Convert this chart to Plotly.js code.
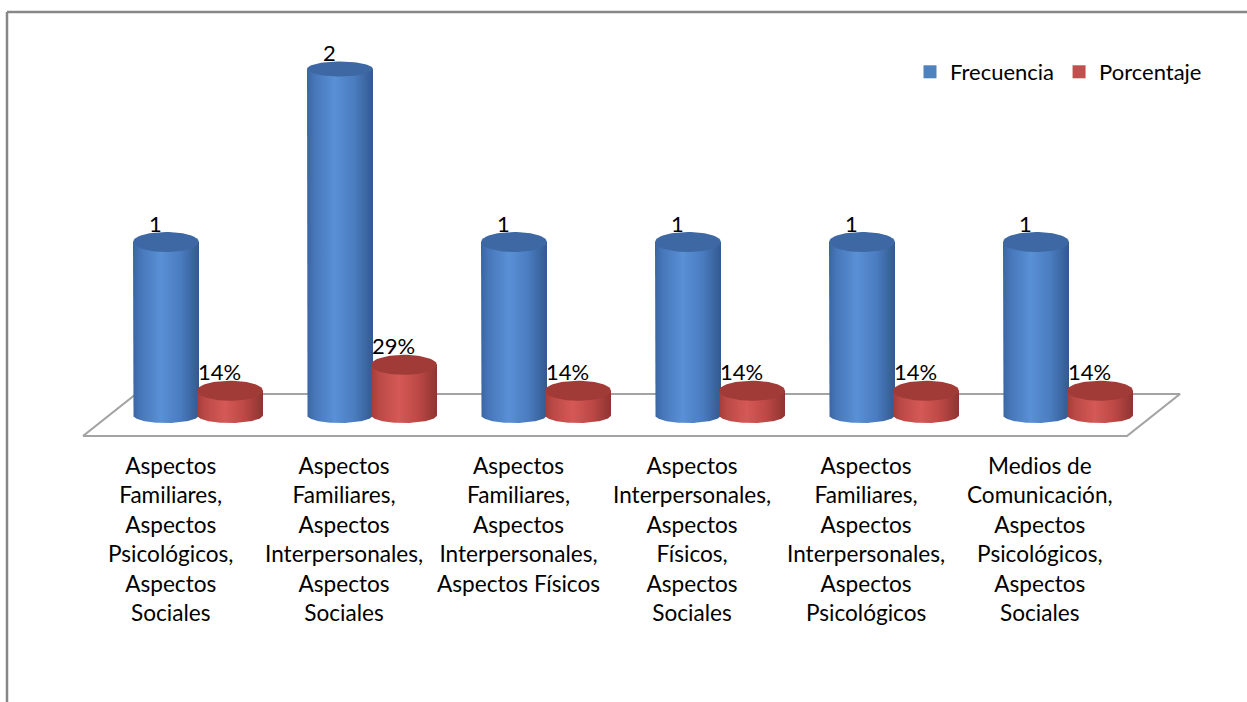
<!DOCTYPE html>
<html>
<head>
<meta charset="utf-8">
<script src="https://cdn.plot.ly/plotly-3.0.1.min.js"></script>
<style>
  html, body { margin: 0; padding: 0; background: #ffffff; }
  #chart { width: 1247px; height: 702px; }
</style>
</head>
<body>
<div id="chart"></div>
<script>
// ---- data ----
const categories = [
  'Aspectos\nFamiliares,\nAspectos\nPsicológicos,\nAspectos\nSociales',
  'Aspectos\nFamiliares,\nAspectos\nInterpersonales,\nAspectos\nSociales',
  'Aspectos\nFamiliares,\nAspectos\nInterpersonales,\nAspectos Físicos',
  'Aspectos\nInterpersonales,\nAspectos\nFísicos,\nAspectos\nSociales',
  'Aspectos\nFamiliares,\nAspectos\nInterpersonales,\nAspectos\nPsicológicos',
  'Medios de\nComunicación,\nAspectos\nPsicológicos,\nAspectos\nSociales'
];
const seriesNames = ['Frecuencia', 'Porcentaje'];
const frecuencia = [1, 2, 1, 1, 1, 1];
const porcentaje = [0.14, 0.29, 0.14, 0.14, 0.14, 0.14];
const frecuenciaLabels = frecuencia.map(v => String(v));
const porcentajeLabels = porcentaje.map(v => Math.round(v * 100) + '%');

// ---- drawing setup ----
const W = 1247, H = 702;
const PX_PER_CAT = 174;          // horizontal pixels per category slot
const PX_PER_UNIT = 173;         // vertical pixels per value unit
const X0_PX = 170;               // pixel of first category (front edge)
const BASE_PX = 415;             // pixel row of value 0 (cylinder bases)
const dxPx = px => px / PX_PER_CAT;
const dyPx = px => px / PX_PER_UNIT;
const xRange = [-X0_PX / PX_PER_CAT, (W - X0_PX) / PX_PER_CAT];
const yRange = [-(H - BASE_PX) / PX_PER_UNIT, BASE_PX / PX_PER_UNIT];
const toPyRow = v => BASE_PX - v * PX_PER_UNIT;

const FONT = 'Lato, "Open Sans", sans-serif';
const DEPTH_X = 53;                   // floor depth skew in px
const FLOOR_FRONT = 436, FLOOR_BACK = 394; // floor edge rows, px
const RADIUS = 33;                    // cylinder half width, px
const BASE_RY = 8;                    // base ellipse half height, px
const SERIES_SHIFT = [-4, 60];        // cylinder centre offsets from category, px
const rowToY = py => (BASE_PX - py) / PX_PER_UNIT;

const styles = [
  {
    legend: '#4F81BD',
    top: '#3D68A3',
    body: [[0, '#3A65A2'], [0.12, '#4777BA'], [0.42, '#5990D6'], [0.72, '#4A7CC0'], [1, '#33598F']]
  },
  {
    legend: '#C0504D',
    top: '#A03B38',
    body: [[0, '#A23D3A'], [0.12, '#BB4946'], [0.42, '#D55956'], [0.72, '#BC4845'], [1, '#8E3432']]
  }
];

function ryFor(py) {
  // top ellipse half-height shrinks for higher tops (perspective)
  const t = Math.max(0, Math.min(1, (py - 66) / 178));
  return 7.5 + 3.5 * t;
}

const traces = [];

// floor outline
const fx = [-0.5, categories.length - 0.5];
traces.push({
  type: 'scatter', mode: 'lines', hoverinfo: 'skip', showlegend: false,
  x: [fx[0], fx[1], fx[1] + dxPx(DEPTH_X), fx[0] + dxPx(DEPTH_X), fx[0]],
  y: [rowToY(FLOOR_FRONT), rowToY(FLOOR_FRONT), rowToY(FLOOR_BACK), rowToY(FLOOR_BACK), rowToY(FLOOR_FRONT)],
  line: { color: '#A3A3A3', width: 2.2 }
});

const series = [frecuencia, porcentaje];
const seriesLabels = [frecuenciaLabels, porcentajeLabels];
const annotations = [];
const N = 72;

categories.forEach((cat, i) => {
  series.forEach((vals, s) => {
    const v = vals[i];
    const cx = i + dxPx(SERIES_SHIFT[s]);
    const r = dxPx(RADIUS);
    const yTop = v;
    const ryTop = Math.min(ryFor(toPyRow(v)), 10);

    // body: straight sides + front half of base ellipse
    const bx = [cx - r], by = [yTop];
    for (let k = 0; k <= N; k++) {
      const t = Math.PI + Math.PI * k / N;
      bx.push(cx + r * Math.cos(t));
      by.push(dyPx(BASE_RY * Math.sin(t)));
    }
    bx.push(cx + r); by.push(yTop);
    bx.push(cx - r); by.push(yTop);
    traces.push({
      type: 'scatter', mode: 'lines', hoverinfo: 'skip', showlegend: false,
      x: bx, y: by, fill: 'toself',
      line: { width: 0, color: 'rgba(0,0,0,0)' },
      fillgradient: { type: 'horizontal', colorscale: styles[s].body }
    });

    // top face
    const tx = [], ty = [];
    for (let k = 0; k <= N; k++) {
      const t = 2 * Math.PI * k / N;
      tx.push(cx + r * Math.cos(t));
      ty.push(yTop + dyPx(ryTop * Math.sin(t)));
    }
    traces.push({
      type: 'scatter', mode: 'lines', hoverinfo: 'skip', showlegend: false,
      x: tx, y: ty, fill: 'toself', fillcolor: styles[s].top,
      line: { width: 0, color: 'rgba(0,0,0,0)' }
    });

    // value label above the cylinder
    annotations.push({
      x: cx - dxPx(11), y: yTop + dyPx(ryTop + 9),
      xref: 'x', yref: 'y', text: seriesLabels[s][i], showarrow: false,
      xanchor: 'center', yanchor: 'middle',
      font: { family: FONT, size: 22, color: '#000000' }
    });
  });

  // category label under the floor
  annotations.push({
    x: i, y: rowToY(450),
    xref: 'x', yref: 'y', text: cat.split('\n').join('<br>'), showarrow: false,
    xanchor: 'center', yanchor: 'top', align: 'center',
    font: { family: FONT, size: 22.6, color: '#000000' }
  });
});

// legend entries
seriesNames.forEach((name, s) => {
  traces.push({
    type: 'scatter', mode: 'markers', name: name, hoverinfo: 'skip',
    x: [null], y: [null],
    marker: { symbol: 'square', size: 13, color: styles[s].legend }
  });
});

const layout = {
  width: W, height: H,
  margin: { l: 0, r: 0, t: 0, b: 0 },
  paper_bgcolor: '#ffffff', plot_bgcolor: '#ffffff',
  xaxis: { range: xRange, visible: false, fixedrange: true },
  yaxis: { range: yRange, visible: false, fixedrange: true },
  showlegend: true,
  legend: {
    orientation: 'h', x: 910 / W, xanchor: 'left', y: 1 - 72 / H, yanchor: 'middle',
    font: { family: FONT, size: 22, color: '#000000' },
    bgcolor: 'rgba(0,0,0,0)', itemclick: false, itemdoubleclick: false
  },
  annotations: annotations,
  shapes: [
    { type: 'line', xref: 'paper', yref: 'paper', x0: 7 / W, x1: 1, y0: 1 - 12 / H, y1: 1 - 12 / H,
      line: { color: '#878787', width: 2.5 } },
    { type: 'line', xref: 'paper', yref: 'paper', x0: 7 / W, x1: 7 / W, y0: 0, y1: 1 - 12 / H,
      line: { color: '#878787', width: 2.5 } }
  ]
};

Plotly.newPlot('chart', traces, layout, { displayModeBar: false, staticPlot: true });
</script>
</body>
</html>
